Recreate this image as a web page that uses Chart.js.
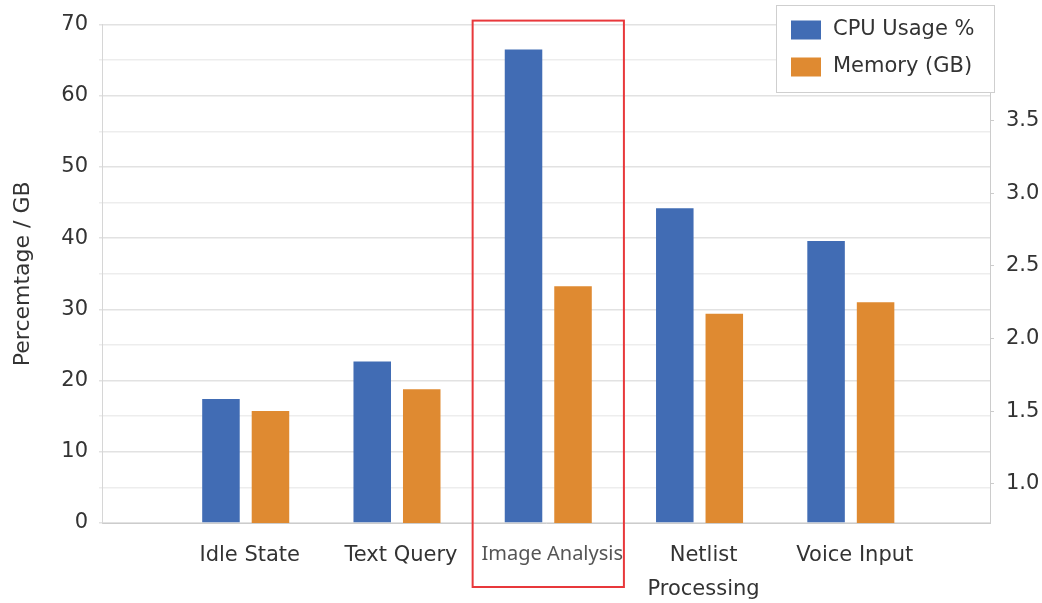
<!DOCTYPE html>
<html>
<head>
<meta charset="utf-8">
<title>CPU and Memory Usage by Task</title>
<script src="https://cdn.jsdelivr.net/npm/chart.js@4/dist/chart.umd.min.js"></script>
<style>
  html, body { margin: 0; padding: 0; background: #ffffff; }
  #wrap { width: 1042px; height: 603px; position: relative; }
</style>
</head>
<body>
<div id="wrap"><canvas id="usage" width="1042" height="603"></canvas></div>
<script>
// Task categories (multi-line labels given as arrays)
const categories = ['Idle State', 'Text Query', 'Image Analysis', ['Netlist', 'Processing'], 'Voice Input'];

// CPU usage in percent (left axis)
const cpuUsage = [17.4, 22.7, 66.5, 44.2, 39.6];

// Memory in GB (right axis)
const memoryGB = [1.5, 1.65, 2.36, 2.17, 2.25];

// Axis tick values
const rightTicks = [1.0, 1.5, 2.0, 2.5, 3.0, 3.5];

// Task singled out with a frame
const highlightIndex = 2;

const BLUE = '#416CB4';
const ORANGE = '#DF8A31';
const TEXT = '#333333';
const FONT = "'DejaVu Sans', 'Noto Sans', sans-serif";

Chart.defaults.font.family = FONT;
Chart.defaults.font.size = 21;
Chart.defaults.color = TEXT;

// Boxed legend in the upper right corner
const boxedLegend = {
  id: 'boxedLegend',
  afterDraw(chart) {
    const ctx = chart.ctx;
    const x = 776, y = 5, w = 219, h = 88;
    ctx.save();
    ctx.fillStyle = '#ffffff';
    ctx.fillRect(x, y, w, h);
    ctx.strokeStyle = '#cfcfcf';
    ctx.lineWidth = 1;
    ctx.strokeRect(x + 0.5, y + 0.5, w - 1, h - 1);
    ctx.font = '21px ' + FONT;
    ctx.textBaseline = 'middle';
    ctx.textAlign = 'left';
    chart.data.datasets.forEach((ds, i) => {
      const rowY = y + 25 + i * 37;
      ctx.fillStyle = ds.backgroundColor;
      ctx.fillRect(x + 15, rowY - 9.5, 30, 19);
      ctx.fillStyle = TEXT;
      ctx.fillText(ds.label, x + 57, rowY);
    });
    ctx.restore();
  }
};

// Red frame around one task column
const highlightFrame = {
  id: 'highlightFrame',
  afterDraw(chart) {
    const xs = chart.scales.x;
    const area = chart.chartArea;
    const left = xs.getPixelForValue(highlightIndex - 0.5);
    const right = xs.getPixelForValue(highlightIndex + 0.5);
    const top = area.top - 4;
    const bottom = area.bottom + 64;
    const ctx = chart.ctx;
    ctx.save();
    ctx.strokeStyle = '#E8383B';
    ctx.lineWidth = 2;
    ctx.strokeRect(left, top, right - left, bottom - top);
    ctx.restore();
  }
};

new Chart(document.getElementById('usage'), {
  type: 'bar',
  data: {
    datasets: [
      {
        label: 'CPU Usage %',
        data: cpuUsage.map((v, i) => ({ x: i, y: v })),
        backgroundColor: BLUE,
        yAxisID: 'y',
        categoryPercentage: 0.6545,
        barPercentage: 0.758,
        borderWidth: 0
      },
      {
        label: 'Memory (GB)',
        data: memoryGB.map((v, i) => ({ x: i, y: v })),
        backgroundColor: ORANGE,
        yAxisID: 'y1',
        categoryPercentage: 0.6545,
        barPercentage: 0.758,
        borderWidth: 0
      }
    ]
  },
  options: {
    responsive: false,
    animation: false,
    layout: { padding: { top: 22, left: 0, right: 0, bottom: 0 } },
    plugins: {
      legend: { display: false },
      tooltip: { enabled: false }
    },
    scales: {
      x: {
        type: 'linear',
        offset: false,
        min: -0.95,
        max: 4.92,
        afterBuildTicks(scale) {
          scale.ticks = categories.map((_, i) => ({ value: i }));
        },
        afterFit(scale) { scale.height = 80; },
        grid: { display: false, drawTicks: false },
        border: { display: true, color: '#cccccc', width: 1 },
        ticks: {
          autoSkip: false,
          maxRotation: 0,
          padding: 15,
          labelOffset: 4,
          font: (c) => (c.index === highlightIndex
            ? { family: "'Noto Sans', sans-serif", size: 20, lineHeight: 1.65 }
            : { size: 21, lineHeight: 1.65 }),
          color: (c) => (c.index === highlightIndex ? '#555555' : TEXT),
          callback: (v) => categories[v] ?? ''
        }
      },
      y: {
        position: 'left',
        min: 0,
        max: 70,
        afterFit(scale) { scale.width = 102; },
        grid: {
          color: (c) => (c.tick && c.tick.value % 10 === 0 ? '#e2e2e2' : '#ededed'),
          lineWidth: 1.5,
          tickLength: 3
        },
        border: { color: '#d6d6d6', width: 1 },
        ticks: {
          stepSize: 5,
          padding: 11,
          font: { size: 21 },
          callback: (v) => (v % 10 === 0 ? String(v) : '')
        },
        title: {
          display: true,
          text: 'Percemtage / GB',
          color: TEXT,
          font: { size: 22 },
          padding: { top: 10, bottom: 0 }
        }
      },
      y1: {
        position: 'right',
        min: 0.73,
        max: 4.16,
        afterBuildTicks(scale) {
          scale.ticks = rightTicks.map((v) => ({ value: v }));
        },
        afterFit(scale) { scale.width = 52; },
        grid: { drawOnChartArea: false, color: '#cccccc', tickLength: 4 },
        border: { color: '#cccccc', width: 1 },
        ticks: {
          padding: 12,
          font: { size: 21 },
          callback: (v) => Number(v).toFixed(1)
        }
      }
    }
  },
  plugins: [highlightFrame, boxedLegend]
});
</script>
</body>
</html>
